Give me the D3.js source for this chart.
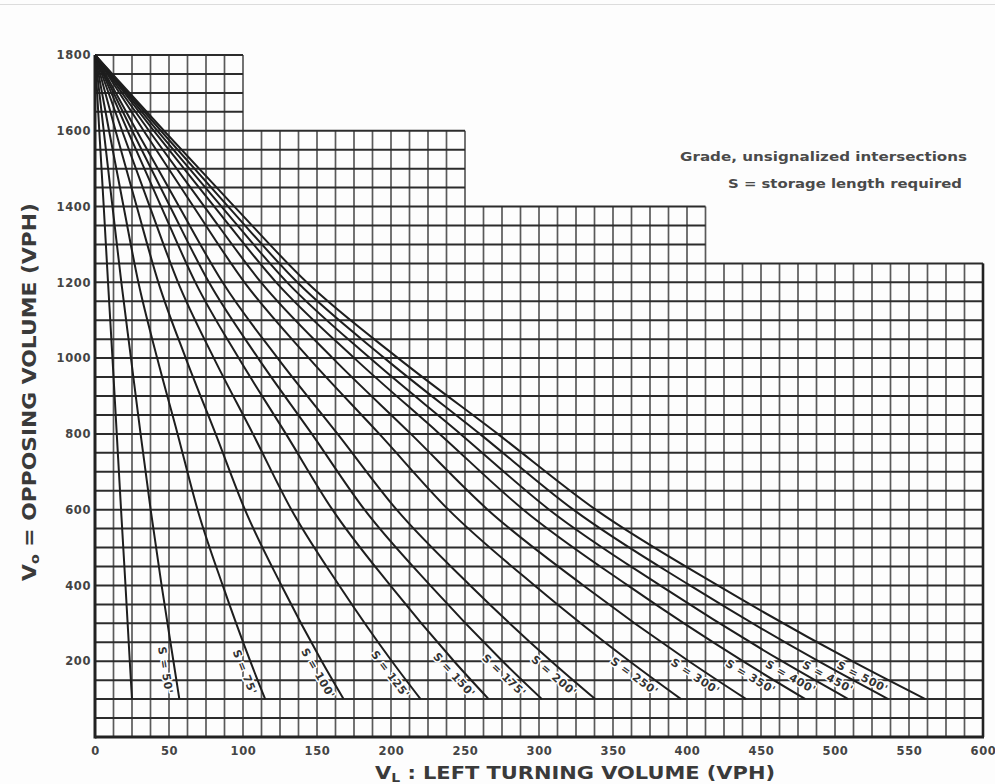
<!DOCTYPE html>
<html><head><meta charset="utf-8">
<script src="https://cdn.jsdelivr.net/npm/d3@7"></script>
<style>body{margin:0;background:#fdfdfd} svg{display:block}</style>
</head><body><svg id="c" width="995" height="784"></svg>
<script>
// ---- data ----
const xTicks = [0,50,100,150,200,250,300,350,400,450,500,550,600];
const yTicks = [200,400,600,800,1000,1200,1400,1600,1800];
const stepEdges = [0,100,250,412.5,600];
const stepTops = [1800,1600,1400,1250];
const voLevels = [1800,1600,1400,1200,1000,800,600,400,200,100];
const storageLabels = ["", "S = 50'", "S = 75'", "S = 100'", "S = 125'", "S = 150'", "S = 175'", "S = 200'", "S = 250'", "S = 300'", "S = 350'", "S = 400'", "S = 450'", "S = 500'"];
const vlS25  = [0, 2.9, 5.9, 8.8, 11.8, 14.7, 17.6, 20.6, 23.5, 25];
const vlS50  = [0, 5.9, 11.8, 17.8, 24.3, 30.8, 37.6, 45.0, 53.0, 57];
const vlS75  = [0, 9.5, 19.3, 29.3, 42.0, 55.8, 69.3, 86.3, 104.9, 115];
const vlS100 = [0, 13.9, 28.2, 42.8, 61.3, 81.5, 101.3, 126.0, 153.2, 168];
const vlS125 = [0, 18.3, 37.0, 56.1, 80.3, 106.7, 132.7, 165.0, 200.6, 220];
const vlS150 = [0, 22.1, 44.7, 67.8, 97.1, 129.0, 160.4, 199.5, 242.6, 266];
const vlS175 = [0, 25.1, 50.7, 77.0, 110.2, 146.5, 182.1, 226.5, 275.4, 302];
const vlS200 = [0, 28.1, 56.8, 86.2, 123.4, 163.9, 203.8, 253.5, 308.3, 338];
const vlS250 = [0, 32.9, 66.5, 101.0, 144.5, 192.1, 238.8, 297.0, 361.2, 396];
const vlS300 = [0, 36.5, 73.9, 112.2, 160.6, 213.4, 265.3, 330.0, 401.3, 440];
const vlS350 = [0, 39.8, 80.6, 122.4, 175.2, 232.8, 289.4, 360.0, 437.8, 480];
const vlS400 = [0, 42.2, 85.5, 129.8, 185.8, 246.9, 306.9, 381.8, 464.2, 509];
const vlS450 = [0, 44.5, 90.0, 136.7, 195.6, 260.0, 323.2, 402.0, 488.8, 536];
const vlS500 = [0, 46.6, 94.2, 143.1, 204.8, 272.1, 338.3, 420.8, 511.6, 561];
const seriesValues = [vlS25, vlS50, vlS75, vlS100, vlS125, vlS150, vlS175, vlS200, vlS250, vlS300, vlS350, vlS400, vlS450, vlS500];

// ---- chart ----
const svg = d3.select("#c");
const x = d3.scaleLinear().domain([0,600]).range([95,983]);
const y = d3.scaleLinear().domain([0,1800]).range([737,55]);
const ink = "#2c2c2c";
const bg = "#fdfdfd";

svg.append("rect").attr("width",995).attr("height",784).attr("fill",bg);
svg.append("line").attr("x1",0).attr("x2",995).attr("y1",4.5).attr("y2",4.5)
  .attr("stroke","#dcdcdc").attr("stroke-width",1);

function topAt(xv){
  let t = 0;
  for(let i=0;i<stepTops.length;i++){
    if(xv >= stepEdges[i]-1e-9 && xv <= stepEdges[i+1]+1e-9) t = Math.max(t, stepTops[i]);
  }
  return t;
}
function rightAt(yv){
  let r = 0;
  for(let i=0;i<stepTops.length;i++){ if(stepTops[i] >= yv) r = Math.max(r, stepEdges[i+1]); }
  return r;
}

const grid = svg.append("g");
d3.range(0, 600.001, 12.5).forEach(xv=>{
  grid.append("line").attr("x1",x(xv)).attr("x2",x(xv)).attr("y1",y(0)).attr("y2",y(topAt(xv)))
    .attr("stroke","#5a5a5a").attr("stroke-width",1.7);
});
d3.range(0, 1800.001, 50).forEach(yv=>{
  grid.append("line").attr("x1",x(0)).attr("x2",x(rightAt(yv))).attr("y1",y(yv)).attr("y2",y(yv))
    .attr("stroke",ink).attr("stroke-width",2);
});
// borders
grid.append("line").attr("x1",x(0)).attr("x2",x(0)).attr("y1",y(0)+1.5).attr("y2",y(1800))
  .attr("stroke","#222").attr("stroke-width",3);
grid.append("line").attr("x1",x(0)).attr("x2",x(600)+1).attr("y1",y(0)).attr("y2",y(0))
  .attr("stroke","#222").attr("stroke-width",3);
grid.append("line").attr("x1",x(600)).attr("x2",x(600)).attr("y1",y(0)).attr("y2",y(1250))
  .attr("stroke","#222").attr("stroke-width",2.6);

// curves
const line = d3.line().x(d=>x(d[0])).y(d=>y(d[1])).curve(d3.curveMonotoneX);
const series = seriesValues.map((vals,i)=>({label: storageLabels[i], pts: vals.map((v,j)=>[v, voLevels[j]])}));
svg.append("g").selectAll("path").data(series).join("path")
  .attr("d", d=>line(d.pts)).attr("fill","none").attr("stroke","#1e1e1e").attr("stroke-width",2);

// curve labels (with paper-coloured knock-out like the original lettering)
const lg = svg.append("g");
series.forEach(s=>{
  if(!s.label) return;
  const a = s.pts[8], b = s.pts[9];
  const vo = 180, t = (a[1]-vo)/(a[1]-b[1]);
  const vl = a[0] + t*(b[0]-a[0]);
  const px = x(vl), py = y(vo);
  const ang = Math.atan2(y(b[1])-y(a[1]), x(b[0])-x(a[0]));
  const off = 9.5;
  const cx = px - Math.sin(ang)*off, cy = py + Math.cos(ang)*off;
  lg.append("text").attr("transform",`translate(${cx},${cy}) rotate(${ang*180/Math.PI})`)
    .attr("text-anchor","middle").attr("dominant-baseline","central")
    .attr("font-family","DejaVu Sans").attr("font-weight","bold").attr("font-size",11)
    .attr("letter-spacing",0.6).attr("fill","#333")
    .attr("stroke",bg).attr("stroke-width",3).attr("paint-order","stroke").attr("stroke-linejoin","round")
    .text(s.label);
});

// axes
const xa = svg.append("g").attr("transform",`translate(0,${y(0)})`)
  .call(d3.axisBottom(x).tickValues(xTicks).tickSize(0).tickPadding(10).tickFormat(d3.format("d")));
const ya = svg.append("g").attr("transform",`translate(${x(0)},0)`)
  .call(d3.axisLeft(y).tickValues(yTicks).tickSize(0).tickPadding(4).tickFormat(d3.format("d")));
[xa,ya].forEach(g=>{
  g.select(".domain").remove();
  g.selectAll("text").attr("font-family","DejaVu Sans").attr("font-weight","bold")
    .attr("font-size",11.5).attr("fill","#444").attr("letter-spacing",0.6);
});

// titles
const yt = svg.append("text").attr("transform","translate(36,392) rotate(-90)")
  .attr("text-anchor","middle").attr("font-family","DejaVu Sans").attr("font-size",20)
  .attr("font-weight","bold").attr("fill","#3a3a3a").attr("textLength",378).attr("lengthAdjust","spacingAndGlyphs");
yt.append("tspan").text("V");
yt.append("tspan").attr("font-size",13).attr("dy",3).text("o");
yt.append("tspan").attr("dy",-3).text(" = OPPOSING  VOLUME  (VPH)");

const xt = svg.append("text").attr("x",575).attr("y",779)
  .attr("text-anchor","middle").attr("font-family","DejaVu Sans").attr("font-size",18)
  .attr("font-weight","bold").attr("fill","#3a3a3a").attr("textLength",400).attr("lengthAdjust","spacingAndGlyphs");
xt.append("tspan").text("V");
xt.append("tspan").attr("font-size",12).attr("dy",3).text("L");
xt.append("tspan").attr("dy",-3).text(" : LEFT  TURNING  VOLUME  (VPH)");

svg.append("text").attr("x",680).attr("y",161).attr("font-family","DejaVu Sans")
  .attr("font-weight","bold").attr("font-size",12.5).attr("fill","#4a4a4a")
  .attr("textLength",287).attr("lengthAdjust","spacingAndGlyphs").text("Grade, unsignalized intersections");
svg.append("text").attr("x",728).attr("y",188).attr("font-family","DejaVu Sans")
  .attr("font-weight","bold").attr("font-size",12.5).attr("fill","#4a4a4a")
  .attr("textLength",234).attr("lengthAdjust","spacingAndGlyphs").text("S = storage length required");
</script></body></html>
